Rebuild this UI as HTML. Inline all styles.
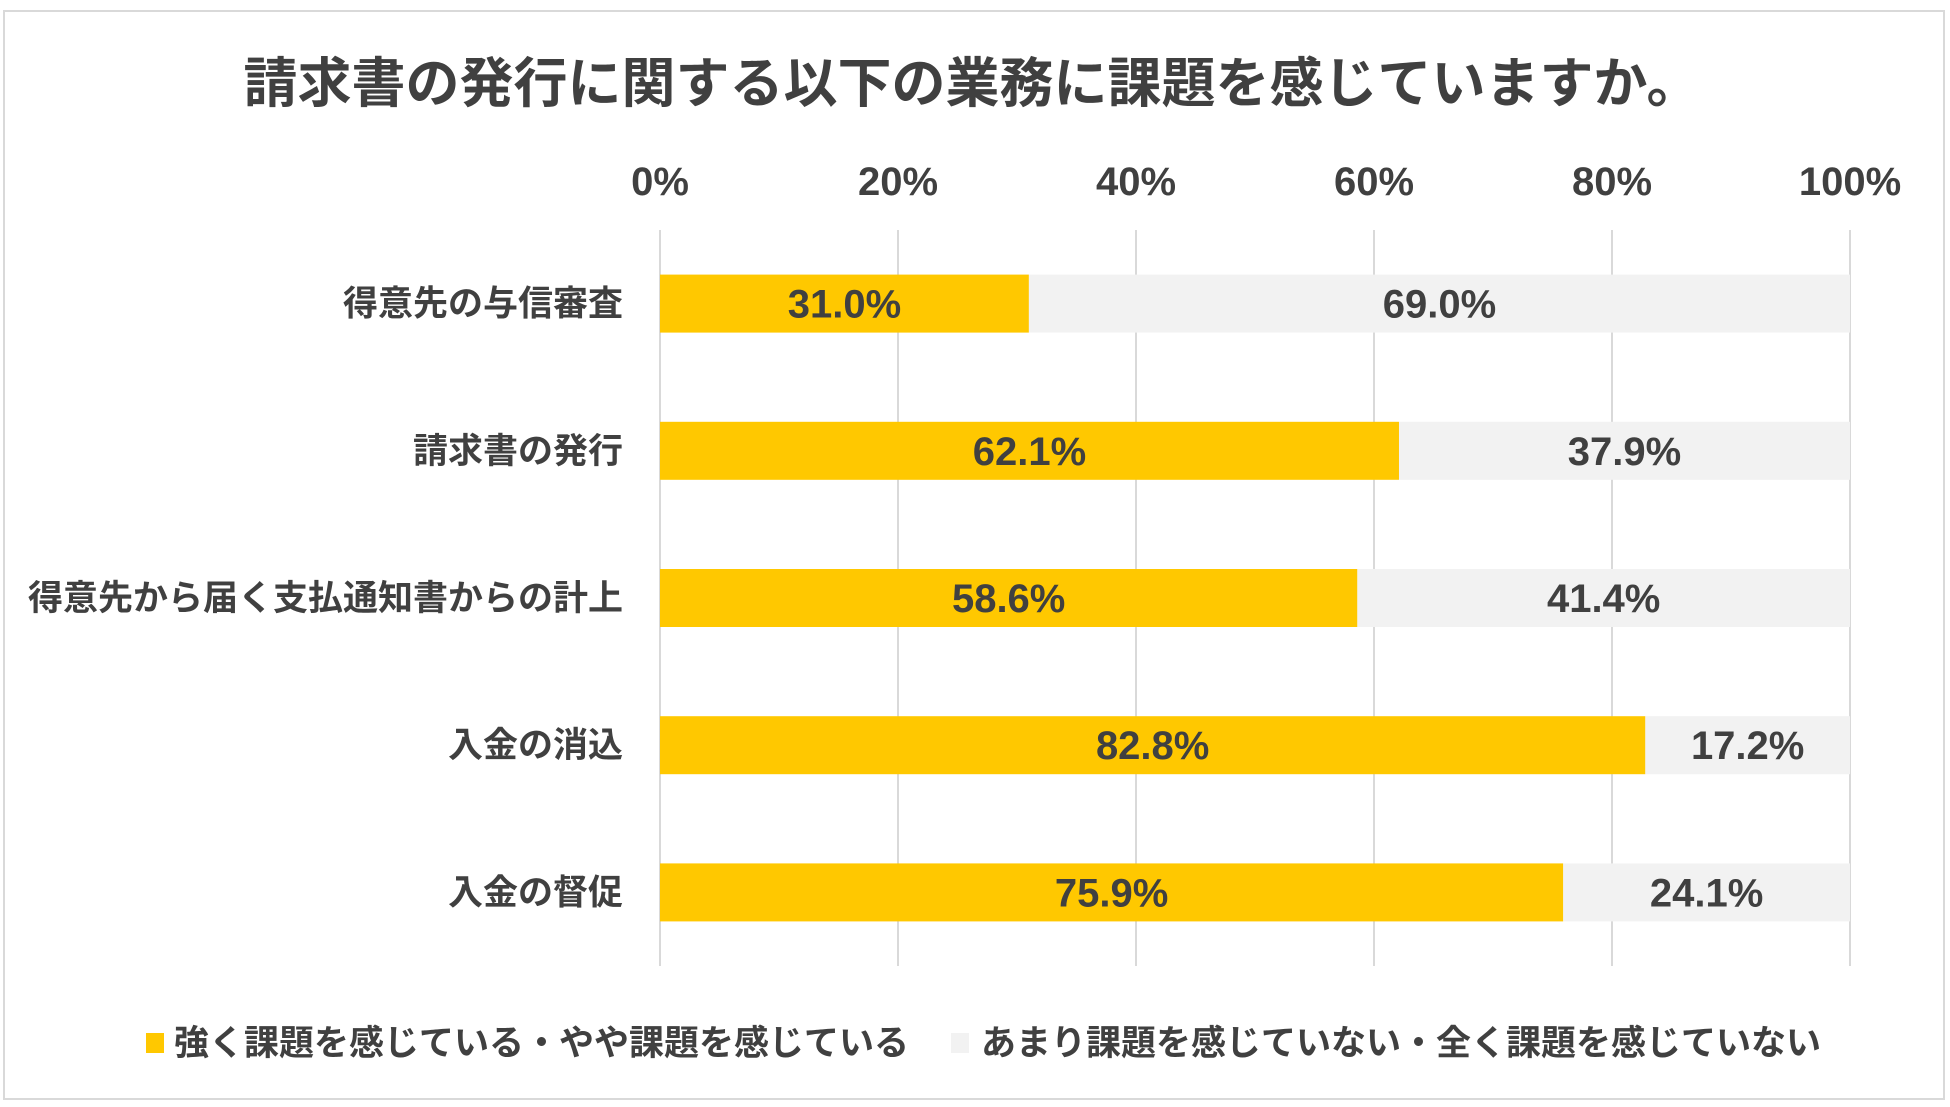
<!DOCTYPE html>
<html><head><meta charset="utf-8"><style>
html,body{margin:0;padding:0;background:#fff;}
body{width:1950px;height:1107px;position:relative;overflow:hidden;font-family:"Liberation Sans","Noto Sans CJK JP",sans-serif;color:#404040;}
#frame{position:absolute;left:3px;top:10px;width:1942px;height:1090px;border:2px solid #d9d9d9;box-sizing:border-box;}
svg{position:absolute;left:0;top:0;}
text{font-family:"Liberation Sans","Noto Sans CJK JP",sans-serif;font-weight:bold;fill:#404040;}
</style></head><body>
<div id="frame"></div>
<svg id="chart" width="1950" height="1107">
<text x="972" y="102" text-anchor="middle" font-size="54">請求書の発行に関する以下の業務に課題を感じていますか。</text>
<g id="grid"></g><g id="bars"></g><g id="labels"></g>
<g>
<rect x="146" y="1033" width="18" height="20" fill="#FFC800"/>
<text x="174" y="1055" font-size="35">強く課題を感じている・やや課題を感じている</text>
<rect x="951" y="1033" width="18" height="20" fill="#F2F2F2"/>
<text x="981" y="1055" font-size="35">あまり課題を感じていない・全く課題を感じていない</text>
</g>
</svg>
<script>
const categories=["得意先の与信審査","請求書の発行","得意先から届く支払通知書からの計上","入金の消込","入金の督促"];
const yesValues=[31.0,62.1,58.6,82.8,75.9];
const noValues=[69.0,37.9,41.4,17.2,24.1];
const ticks=[0,20,40,60,80,100];
const NS="http://www.w3.org/2000/svg";
const X0=660,X1=1850,Y0=230,Y1=966,band=(Y1-Y0)/categories.length,barH=58;
const x=v=>X0+(X1-X0)*v/100;
const yc=i=>Y0+band*(i+0.5);
function mk(tag,attrs,parent,txt){const e=document.createElementNS(NS,tag);for(const k in attrs)e.setAttribute(k,attrs[k]);if(txt!==undefined)e.textContent=txt;parent.appendChild(e);return e;}
const grid=document.getElementById('grid'),bars=document.getElementById('bars'),labels=document.getElementById('labels');
ticks.forEach(t=>{
 const l=mk('line',{x1:x(t),x2:x(t),y1:Y0,y2:Y1,stroke:'#d9d9d9','stroke-width':2},grid);
 
 
 const tx=mk('text',{x:x(t),y:195,'text-anchor':'middle','font-size':40},grid,t+'%');
 
 
});
categories.forEach((c,i)=>{
 const cy=yc(i);
 const lab=mk('text',{x:623,y:cy+12,'text-anchor':'end','font-size':35},labels,c);
 
 
 const a=mk('rect',{x:x(0),y:cy-barH/2,width:x(yesValues[i])-x(0),height:barH,fill:'#FFC800'},bars);
 
 
 const b=mk('rect',{x:x(yesValues[i]),y:cy-barH/2,width:x(yesValues[i]+noValues[i])-x(yesValues[i]),height:barH,fill:'#F2F2F2'},bars);
 
 
 const t1=mk('text',{x:(x(0)+x(yesValues[i]))/2,y:cy+14,'text-anchor':'middle','font-size':40},labels,yesValues[i].toFixed(1)+'%');
 
 
 const t2=mk('text',{x:(x(yesValues[i])+x(yesValues[i]+noValues[i]))/2,y:cy+14,'text-anchor':'middle','font-size':40},labels,noValues[i].toFixed(1)+'%');
 
 
});
</script>
</body></html>
